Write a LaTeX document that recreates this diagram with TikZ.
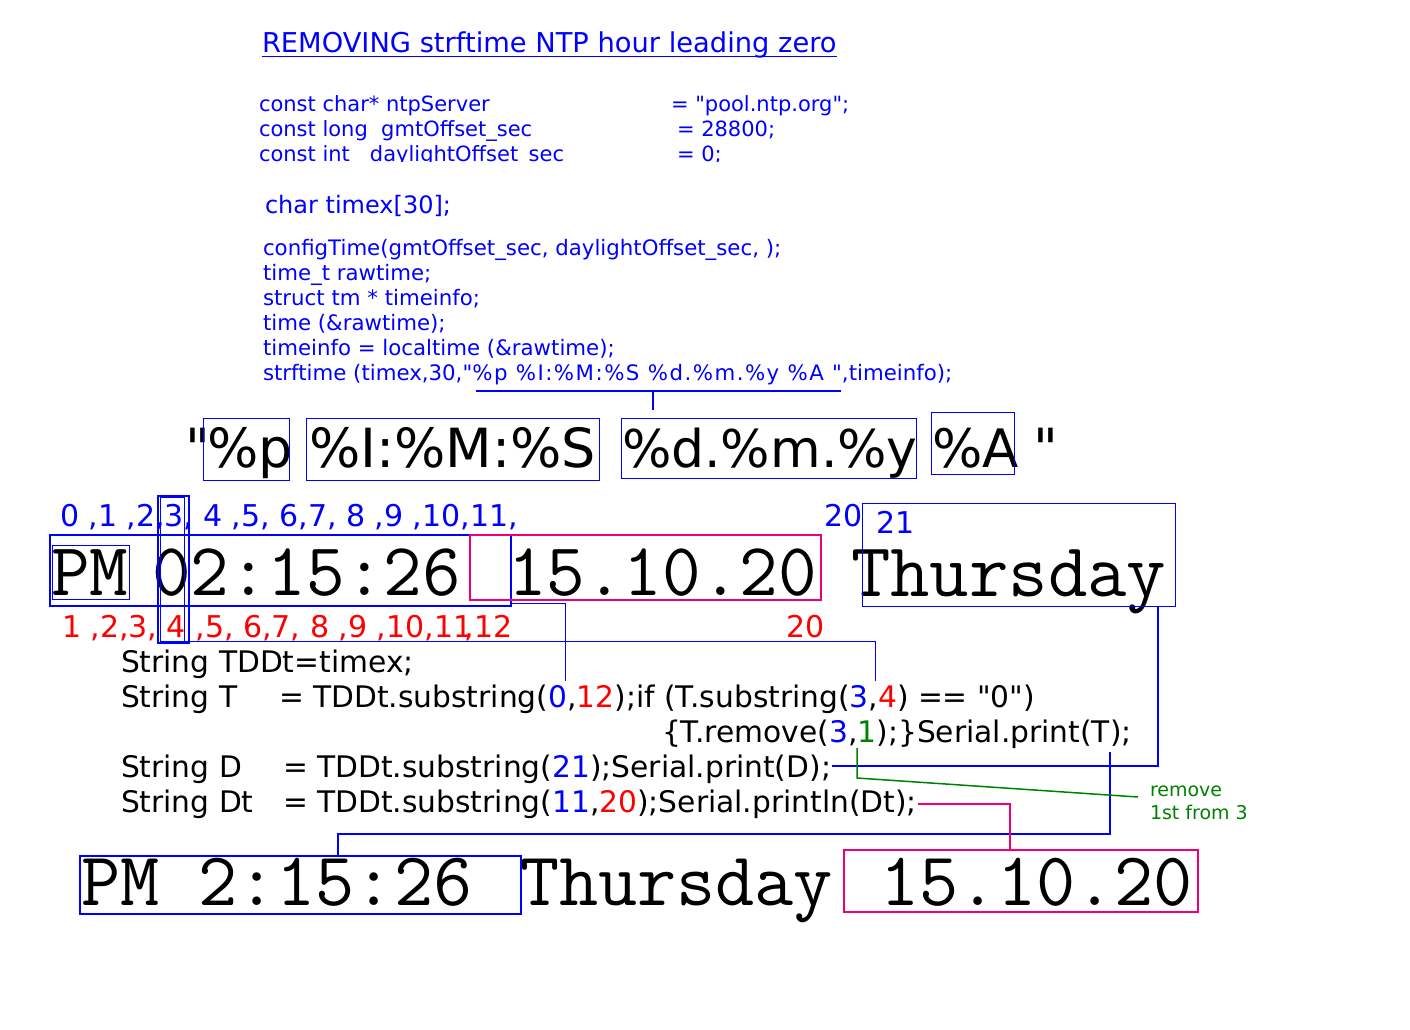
\documentclass[tikz,border=0pt]{standalone}
\usepackage{fontspec}
\setmainfont[Ligatures=TeXOff]{DejaVu Sans}
\usetikzlibrary{calc}
\definecolor{cblue}{RGB}{0,0,255}
\definecolor{cred}{RGB}{255,0,0}
\definecolor{cpink}{RGB}{240,0,120}
\definecolor{cgreen}{RGB}{0,128,0}
\newcommand{\fsz}[1]{\fontsize{#1}{#1}\selectfont}
\newcommand{\bl}[1]{\textcolor{cblue}{#1}}
\newcommand{\rd}[1]{\textcolor{cred}{#1}}
\newcommand{\gr}[1]{\textcolor{cgreen}{#1}}
\newcommand{\dq}{\symbol{34}}
\begin{document}
\begin{tikzpicture}[x=1pt,y=-1pt,
  txt/.style={anchor=base west, inner sep=0, outer sep=0},
  head/.style={txt, text=cblue, font=\fsz{21}},
  cfg/.style={txt, text=cblue, font=\fsz{21.3}},
  code/.style={txt, font=\fsz{29.7}},
  fmt/.style={txt, font=\fsz{54}},
  idx/.style={txt, font=\fsz{30}},
  lcd/.style={txt, font=\ttfamily\fsz{75}},
  lcdb/.style={txt, font=\ttfamily\fsz{76}},
  thinbox/.style={draw=cblue, line width=1pt, inner sep=0},
  thickbox/.style={draw=cblue, line width=2pt, inner sep=0},
  pinkbox/.style={draw=cpink, line width=2pt, inner sep=0},
  thinlink/.style={draw=cblue, line width=1pt},
  link/.style={draw=cblue, line width=2pt},
  pinklink/.style={draw=cpink, line width=1.6pt},
  greenlink/.style={draw=cgreen, line width=1.5pt},
]
\useasboundingbox[fill=white] (0,0) rectangle (1410,1029);

% title
\node[txt, text=cblue, font=\fsz{27.3}] (title) at (262,52) {REMOVING strftime NTP hour leading zero};
\draw[cblue, line width=1.5pt] ($(title.base west)+(0,4.5)$) -- ($(title.base east)+(0,4.5)$);

% header declarations
\node[head] (h1) at (259,111) {const char* ntpServer};
\node[head] (h1v) at (671,111) {= \dq pool.ntp.org\dq;};
\node[head] (h2) at (259,136) {const long\ \ gmtOffset\_sec};
\node[head] (h2v) at (677,136) {= 28800;};
\begin{scope}
\clip (240,140) rectangle (900,161.3);
\node[head] (h3) at (259,161) {const int\ \ \ daylightOffset\_sec};
\node[head] (h3v) at (677,161) {= 0;};
\end{scope}

\node[txt, text=cblue, font=\fsz{24}] (timex) at (265,213) {char timex[30];};

\node[cfg] (c1) at (263,255) {configTime(gmtOffset\_sec, daylightOffset\_sec, );};
\node[cfg] (c2) at (263,280) {time\_t rawtime;};
\node[cfg] (c3) at (263,305) {struct tm * timeinfo;};
\node[cfg] (c4) at (263,330) {time (\&rawtime);};
\node[cfg] (c5) at (263,355) {timeinfo = localtime (\&rawtime);};
\node[cfg] (c6a) at (263,380) {strftime (timex,30,\dq};
\node[cfg, font=\fsz{21.3}\addfontfeature{LetterSpace=7}] (c6b) at (c6a.base east) {\%p \%I:\%M:\%S \%d.\%m.\%y \%A \dq};
\node[cfg] (c6c) at (c6b.base east) {,timeinfo);};

% bracket under format string
\coordinate (brl) at (476,391);
\coordinate (brr) at (841,391);
\coordinate (brm) at (653,391);
\coordinate (brd) at (653,410);
\draw[link] (brl) -- (brr);
\draw[link] (brm) -- (brd);

% format row
\node[fmt] (q1) at (185,467) {\dq};
\node[fmt] (fp) at (207,467) {\%p};
\node[fmt] (fims) at (309,467) {\%I:\%M:\%S};
\node[fmt, font=\fsz{52}] (fdmy) at (622,467) {\%d.\%m.\%y};
\node[fmt, font=\fsz{53}] (fa) at (932,467) {\%A};
\node[fmt] (q2) at (1033,467) {\dq};
\node[thinbox, minimum width=86, minimum height=62] (bp) at (246,449) {};
\node[thinbox, minimum width=293, minimum height=62] (bims) at (452.5,449) {};
\node[thinbox, minimum width=295, minimum height=60] (bdmy) at (768.5,448) {};
\node[thinbox, minimum width=83, minimum height=62] (ba) at (972.5,443) {};

% index rows
\node[idx, text=cblue] (itop) at (60,526) {0 ,1 ,2,3, 4 ,5, 6,7, 8 ,9 ,10,11,};
\node[idx, text=cblue] (i20) at (824,526) {20};
\node[idx, text=cblue] (i21) at (876,533) {21};
\node[idx, text=cred] (ibot) at (62,637) {1 ,2,3, 4 ,5, 6,7, 8 ,9 ,10,11\kern-0.25em,12};
\node[idx, text=cred] (r20) at (786,637) {20};

% display row
\node[lcd] (dPM) at (51,595) {PM};
\node[lcd] (dT) at (152,595) {02:15:26};
\node[lcd] (dDt) at (508,595) {15.10.20};
\node[lcd, font=\ttfamily\fsz{76.5}] (dD) at (851,596) {Thursday};
\node[thickbox, minimum width=461, minimum height=71] (bT) at (280.5,570.5) {};
\node[thinbox, minimum width=77, minimum height=54] (bpm) at (90.5,572) {};
\node[thickbox, minimum width=31, minimum height=147] (bz) at (173.5,569.5) {};
\node[thinbox, minimum width=24, minimum height=144] (bzi) at (172,569) {};
\node[pinkbox, minimum width=351, minimum height=65] (bDt) at (645.5,567.5) {};
\node[thinbox, minimum width=313, minimum height=103] (bD) at (1018.5,554.5) {};

% code
\node[code] (s1) at (121,672) {String TDDt=timex;};
\node[code] (s2) at (121,707) {String T};
\node[code] (s2v) at (279,707) {= TDDt.substring(\bl{0},\rd{12});if (T.substring(\bl{3},\rd{4}) == \dq 0\dq)};
\node[code] (s3) at (662,742) {\{T.remove(\bl{3},\gr{1});\}Serial.print(T);};
\node[code] (s4) at (121,777) {String D};
\node[code] (s4v) at (283,777) {= TDDt.substring(\bl{21});Serial.print(D);};
\node[code] (s5) at (121,812) {String Dt};
\node[code] (s5v) at (283,812) {= TDDt.substring(\bl{11},\rd{20});Serial.println(Dt);};

\node[txt, text=cgreen, font=\fsz{19}] (g1) at (1150,796) {remove};
\node[txt, text=cgreen, font=\fsz{19}] (g2) at (1150,819) {1st from 3};

% result row
\node[lcdb] (rT) at (81,905) {PM 2:15:26};
\node[lcdb] (rD) at (520,905) {Thursday};
\node[lcdb] (rDt) at (880,905) {15.10.20};
\node[thickbox, minimum width=441, minimum height=58] (rbT) at (300.5,885) {};
\node[pinkbox, minimum width=354, minimum height=62] (rbDt) at (1021,881) {};

% connectors
\coordinate (a1) at (bT.south east |- 0,603);
\coordinate (a2) at (565,681);
\draw[thinlink] (a1) -| (a2);

\coordinate (b1) at (bzi.south east);
\coordinate (b2) at (875,681);
\draw[thinlink] (b1) -| (b2);

\coordinate (d1) at (bD.south -| 1158,0);
\coordinate (d2) at (832,766);
\draw[draw=cblue, line width=1.5pt] (d1) |- (d2);

\coordinate (t1) at (1110,752);
\coordinate (t2) at (338,834);
\coordinate (t3) at (rbT.north -| t2);
\draw[link] (t1) |- (t2) -- (t3);

\coordinate (p1) at (918,804);
\coordinate (p2) at (rbDt.north -| 1010,0);
\draw[pinklink] (p1) -| (p2);

\coordinate (gA) at (857,748);
\coordinate (gB) at (857,778);
\coordinate (gC) at (1138,797);
\draw[greenlink] (gA) -- (gB) -- (gC);
\end{tikzpicture}
\end{document}
